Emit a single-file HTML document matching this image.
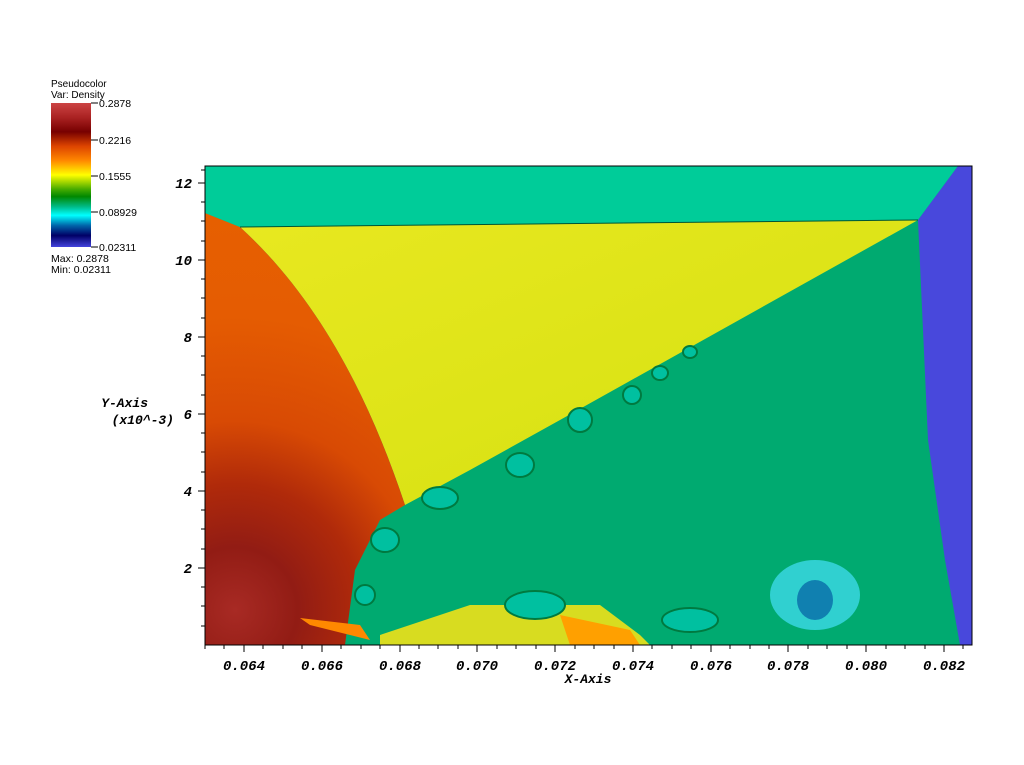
<!DOCTYPE html>
<html><head><meta charset="utf-8"><style>
body{margin:0;background:#fff;width:1024px;height:760px;overflow:hidden;font-family:"Liberation Sans",sans-serif}
</style></head><body>
<svg width="1024" height="760" xmlns="http://www.w3.org/2000/svg">
<defs>
<linearGradient id="cb" x1="0" y1="0" x2="0" y2="1">
<stop offset="0" stop-color="#cc4444"/><stop offset="0.1" stop-color="#aa2222"/><stop offset="0.2" stop-color="#770000"/>
<stop offset="0.3" stop-color="#dd4400"/><stop offset="0.4" stop-color="#ff8800"/><stop offset="0.5" stop-color="#ffff00"/>
<stop offset="0.6" stop-color="#44aa00"/><stop offset="0.65" stop-color="#008800"/><stop offset="0.72" stop-color="#00bb88"/>
<stop offset="0.78" stop-color="#00ffff"/><stop offset="0.85" stop-color="#0066aa"/><stop offset="0.92" stop-color="#000066"/><stop offset="1" stop-color="#4444dd"/>
</linearGradient>
<radialGradient id="red" gradientUnits="userSpaceOnUse" cx="235" cy="610" r="420">
<stop offset="0" stop-color="#a82a24"/><stop offset="0.15" stop-color="#921c14"/><stop offset="0.3" stop-color="#b02a0a"/><stop offset="0.45" stop-color="#d84a04"/><stop offset="0.7" stop-color="#e55c02"/><stop offset="1" stop-color="#e66000"/>
</radialGradient>
<linearGradient id="yel" x1="0" y1="0" x2="1" y2="1">
<stop offset="0" stop-color="#e8e820"/><stop offset="1" stop-color="#d4e010"/>
</linearGradient>
</defs>
<text x="51" y="87" font-size="10">Pseudocolor</text>
<text x="51" y="98" font-size="10">Var: Density</text>
<rect x="51" y="103" width="40" height="144" fill="url(#cb)"/>
<g stroke="#000" stroke-width="1"><line x1="91" y1="103" x2="98" y2="103"/><line x1="91" y1="140" x2="98" y2="140"/><line x1="91" y1="176" x2="98" y2="176"/><line x1="91" y1="212" x2="98" y2="212"/><line x1="91" y1="247" x2="98" y2="247"/></g>
<g font-size="10.5"><text x="99" y="107">0.2878</text><text x="99" y="144">0.2216</text><text x="99" y="180">0.1555</text><text x="99" y="216">0.08929</text><text x="99" y="251">0.02311</text>
<text x="51" y="262">Max: 0.2878</text><text x="51" y="273">Min: 0.02311</text></g>

<rect x="205" y="166" width="767" height="479" fill="#00aa70"/>
<path d="M240,227 L918,220 L560,420 L470,470 L405,505 C370,400 320,300 240,227Z" fill="url(#yel)"/>
<path d="M205,213 L240,227 C320,300 370,400 405,505 L380,520 L355,570 L345,645 L205,645Z" fill="url(#red)"/>
<path d="M300,618 L360,625 L370,640 L310,625Z" fill="#ff8800"/>
<path d="M380,635 L470,605 L600,605 L640,635 L650,645 L380,645Z" fill="#d8dc20"/>
<path d="M560,615 L630,630 L640,645 L570,645Z" fill="#ffa000"/>
<path d="M205,166 L958,166 L918,220 L240,227 L205,213Z" fill="#00cc99"/>
<path d="M958,166 L972,166 L972,645 L960,645 L945,560 L928,440 L918,220Z" fill="#4848dc"/>
<g fill="#00c0a0" stroke="#007a40" stroke-width="2">
<ellipse cx="385" cy="540" rx="14" ry="12"/><ellipse cx="440" cy="498" rx="18" ry="11"/><ellipse cx="520" cy="465" rx="14" ry="12"/>
<ellipse cx="580" cy="420" rx="12" ry="12"/><ellipse cx="632" cy="395" rx="9" ry="9"/><ellipse cx="660" cy="373" rx="8" ry="7"/><ellipse cx="690" cy="352" rx="7" ry="6"/><ellipse cx="365" cy="595" rx="10" ry="10"/>
<ellipse cx="535" cy="605" rx="30" ry="14"/><ellipse cx="690" cy="620" rx="28" ry="12"/>
</g>
<ellipse cx="815" cy="595" rx="45" ry="35" fill="#30d0d0"/>
<ellipse cx="815" cy="600" rx="18" ry="20" fill="#1080b0"/>
<path d="M240,227 L918,220" stroke="#005533" stroke-width="1" fill="none"/>

<rect x="205" y="166" width="767" height="479" fill="none" stroke="#000"/>
<g stroke="#000" stroke-width="1">
<path d="M205,645 V649 M244,645 V652 M322,645 V652 M400,645 V652 M477,645 V652 M555,645 V652 M633,645 V652 M711,645 V652 M788,645 V652 M866,645 V652 M944,645 V652"/>
<path d="M224,645V649M263,645V649M283,645V649M302,645V649M341,645V649M361,645V649M380,645V649M419,645V649M438,645V649M458,645V649M497,645V649M516,645V649M536,645V649M575,645V649M594,645V649M614,645V649M652,645V649M672,645V649M691,645V649M730,645V649M750,645V649M769,645V649M808,645V649M827,645V649M847,645V649M886,645V649M905,645V649M925,645V649M963,645V649"/>
<path d="M205,183 H198 M205,260 H198 M205,337 H198 M205,414 H198 M205,491 H198 M205,568 H198"/>
<path d="M205,170H201M205,202H201M205,221H201M205,241H201M205,279H201M205,298H201M205,318H201M205,356H201M205,375H201M205,395H201M205,433H201M205,452H201M205,472H201M205,510H201M205,529H201M205,549H201M205,587H201M205,606H201M205,626H201"/>
</g>
<g font-family="Liberation Mono,monospace" font-weight="bold" font-style="italic" font-size="14" text-anchor="middle">
<text x="244" y="670">0.064</text><text x="322" y="670">0.066</text><text x="400" y="670">0.068</text><text x="477" y="670">0.070</text><text x="555" y="670">0.072</text><text x="633" y="670">0.074</text><text x="711" y="670">0.076</text><text x="788" y="670">0.078</text><text x="866" y="670">0.080</text><text x="944" y="670">0.082</text>
<text x="588" y="683" font-size="13">X-Axis</text>
</g>
<g font-family="Liberation Mono,monospace" font-weight="bold" font-style="italic" font-size="14" text-anchor="end">
<text x="192" y="188">12</text><text x="192" y="265">10</text><text x="192" y="342">8</text><text x="192" y="419">6</text><text x="192" y="496">4</text><text x="192" y="573">2</text>
<text x="148" y="407" font-size="13">Y-Axis</text><text x="174" y="424" font-size="13">(x10^-3)</text>
</g>
</svg>
</body></html>
